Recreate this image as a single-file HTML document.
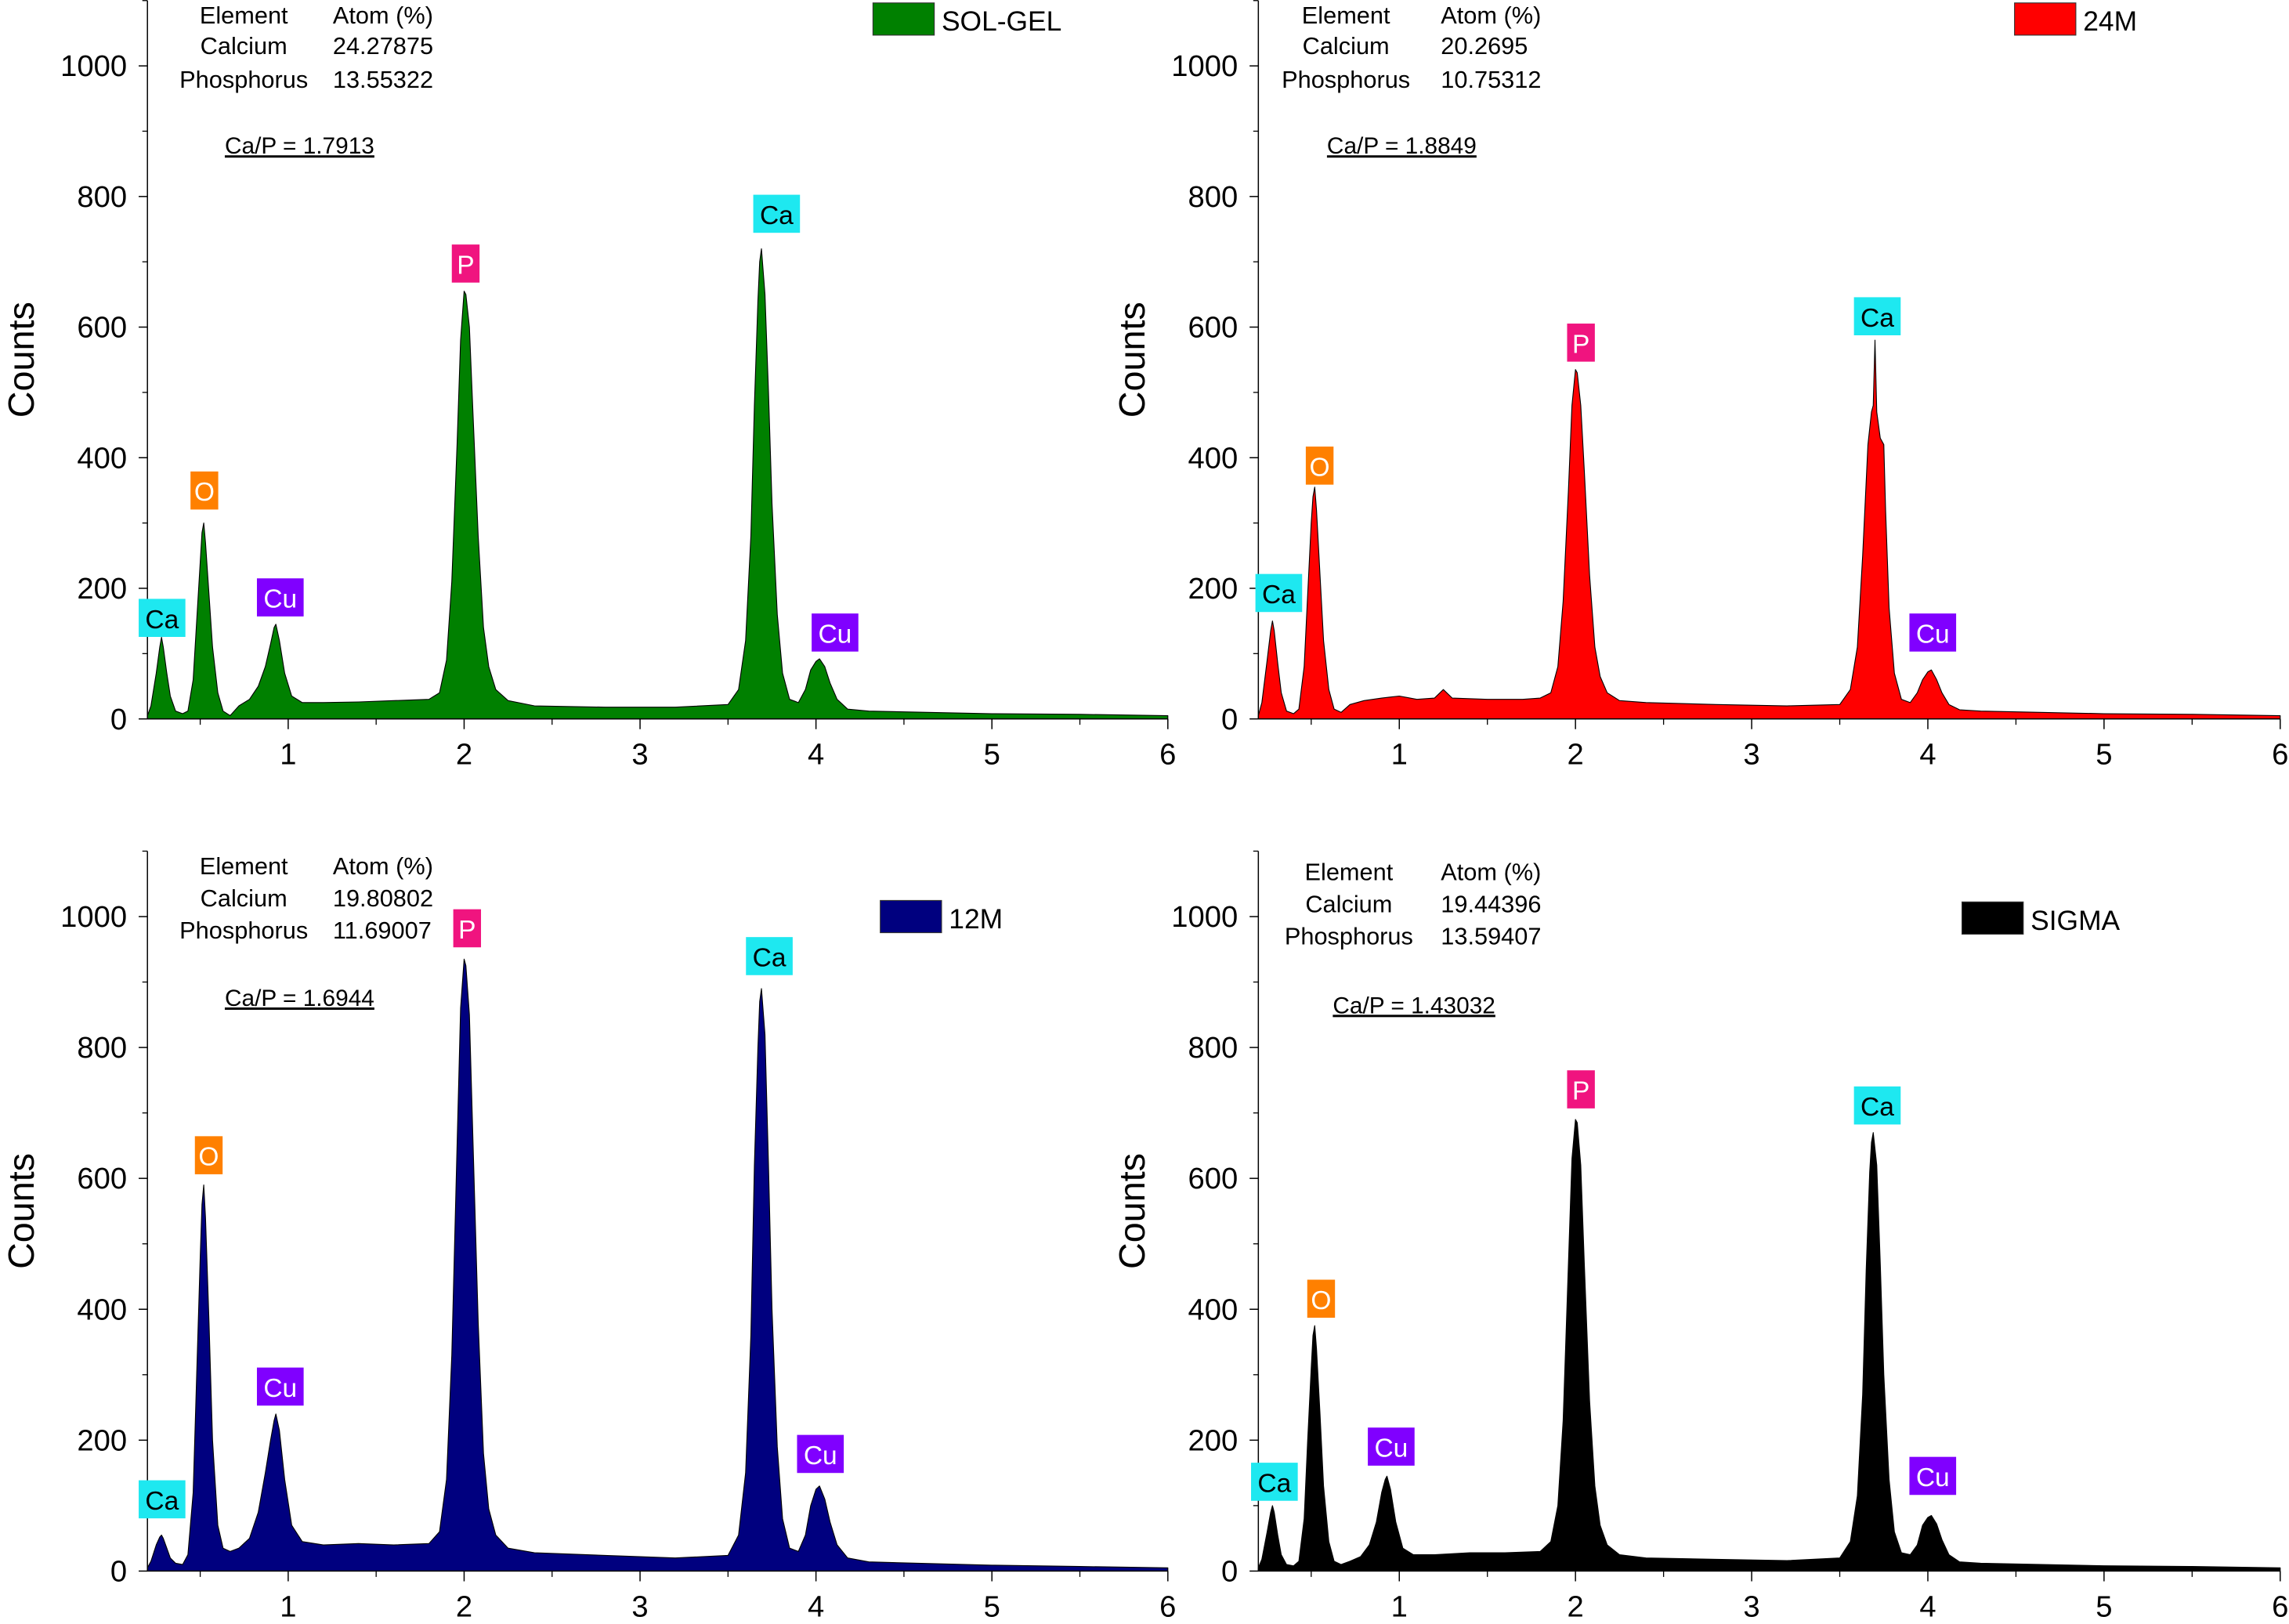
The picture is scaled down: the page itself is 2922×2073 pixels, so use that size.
<!DOCTYPE html>
<html><head><meta charset="utf-8"><title>EDS spectra</title>
<style>
html,body{margin:0;padding:0;background:#fff;}
svg{display:block;font-family:"Liberation Sans",Arial,sans-serif;}
</style></head>
<body>
<svg id="chart" xmlns="http://www.w3.org/2000/svg" width="2922" height="2073" viewBox="0 0 2922 2073">
<g id="root" transform="scale(1.8635,1.869)"></g>
</svg>
<script>
// ---- data: [energy keV, counts] ----
const solgelPts = [[0.2,5],[0.22,20],[0.25,70],[0.27,110],[0.28,125],[0.29,110],[0.31,70],[0.33,35],[0.36,12],[0.40,8],
 [0.43,12],[0.46,60],[0.48,150],[0.50,240],[0.51,285],[0.52,300],[0.53,270],[0.55,190],[0.57,110],[0.60,40],[0.63,12],[0.67,5],
 [0.72,20],[0.78,30],[0.83,50],[0.87,80],[0.90,115],[0.92,140],[0.93,145],[0.95,120],[0.98,70],[1.02,35],[1.08,25],
 [1.2,25],[1.4,26],[1.6,28],[1.8,30],[1.86,40],[1.90,90],[1.93,210],[1.96,420],[1.98,580],[2.00,655],[2.01,650],[2.03,600],
 [2.05,470],[2.08,280],[2.11,140],[2.14,80],[2.18,45],[2.25,28],[2.4,20],[2.8,18],[3.2,18],[3.5,22],[3.56,45],[3.60,120],
 [3.63,280],[3.65,480],[3.67,640],[3.68,700],[3.69,720],[3.71,650],[3.73,500],[3.75,330],[3.78,160],[3.81,70],[3.85,30],
 [3.90,25],[3.94,45],[3.97,75],[4.00,88],[4.02,92],[4.05,80],[4.08,55],[4.12,30],[4.18,15],[4.3,12],[5.0,8],[5.5,7],[6.0,5]];
const m24Pts = [[0.2,5],[0.22,25],[0.25,90],[0.27,135],[0.28,150],[0.29,135],[0.31,85],[0.33,40],[0.36,12],[0.40,8],
 [0.43,15],[0.46,80],[0.48,190],[0.50,300],[0.51,340],[0.52,355],[0.53,320],[0.55,220],[0.57,120],[0.60,45],[0.63,15],[0.67,10],
 [0.72,22],[0.8,28],[0.9,32],[1.0,35],[1.1,30],[1.2,32],[1.25,45],[1.3,32],[1.5,30],[1.7,30],[1.8,32],[1.86,40],[1.90,80],
 [1.93,180],[1.96,350],[1.98,480],[2.00,535],[2.01,530],[2.03,480],[2.05,380],[2.08,220],[2.11,110],[2.14,65],[2.18,40],
 [2.25,28],[2.4,25],[2.8,22],[3.2,20],[3.5,22],[3.56,45],[3.60,110],[3.63,250],[3.66,420],[3.68,470],[3.69,480],[3.70,580],
 [3.71,470],[3.73,430],[3.75,420],[3.76,320],[3.78,170],[3.81,70],[3.85,30],[3.90,25],[3.94,40],[3.97,60],[4.00,72],[4.02,75],
 [4.05,60],[4.08,40],[4.12,22],[4.18,14],[4.3,12],[5.0,8],[5.5,7],[6.0,5]];
const m12Pts = [[0.2,5],[0.22,15],[0.25,40],[0.27,52],[0.28,55],[0.29,50],[0.31,35],[0.33,20],[0.36,12],[0.40,10],
 [0.43,25],[0.46,120],[0.48,300],[0.50,480],[0.51,560],[0.52,590],[0.53,540],[0.55,380],[0.57,200],[0.60,70],[0.63,35],[0.67,30],
 [0.72,35],[0.78,50],[0.83,90],[0.87,150],[0.90,200],[0.92,230],[0.93,240],[0.95,215],[0.98,140],[1.02,70],[1.08,45],
 [1.2,40],[1.4,42],[1.6,40],[1.8,42],[1.86,60],[1.90,140],[1.93,330],[1.96,650],[1.98,860],[2.00,935],[2.01,925],[2.03,850],
 [2.05,660],[2.08,380],[2.11,180],[2.14,95],[2.18,55],[2.25,35],[2.4,28],[2.8,24],[3.2,20],[3.5,24],[3.56,55],[3.60,150],
 [3.63,360],[3.65,620],[3.67,800],[3.68,870],[3.69,890],[3.71,820],[3.73,620],[3.75,400],[3.78,190],[3.81,80],[3.85,35],
 [3.90,30],[3.94,55],[3.97,100],[4.00,125],[4.02,130],[4.05,110],[4.08,75],[4.12,40],[4.18,20],[4.3,14],[5.0,9],[5.5,7],[6.0,5]];
const sigmaPts = [[0.2,5],[0.22,18],[0.25,60],[0.27,90],[0.28,100],[0.29,90],[0.31,55],[0.33,25],[0.36,10],[0.40,8],
 [0.43,15],[0.46,80],[0.48,200],[0.50,310],[0.51,360],[0.52,375],[0.53,340],[0.55,240],[0.57,130],[0.60,45],[0.63,15],[0.67,10],
 [0.72,15],[0.78,22],[0.83,40],[0.87,75],[0.90,120],[0.92,140],[0.93,145],[0.95,125],[0.98,75],[1.02,35],[1.08,25],
 [1.2,25],[1.4,28],[1.6,28],[1.8,30],[1.86,45],[1.90,100],[1.93,230],[1.96,470],[1.98,630],[2.00,690],[2.01,685],[2.03,620],
 [2.05,470],[2.08,260],[2.11,130],[2.14,70],[2.18,40],[2.25,25],[2.4,20],[2.8,18],[3.2,16],[3.5,20],[3.56,45],[3.60,115],
 [3.63,270],[3.65,460],[3.67,610],[3.68,655],[3.69,670],[3.71,620],[3.73,470],[3.75,300],[3.78,140],[3.81,60],[3.85,28],
 [3.90,25],[3.94,40],[3.97,70],[4.00,82],[4.02,85],[4.05,72],[4.08,48],[4.12,25],[4.18,14],[4.3,12],[5.0,8],[5.5,7],[6.0,5]];
const xTicks = [1,2,3,4,5,6];
const yTicks = [0,200,400,600,800,1000];
const xMinor = [0.5,1.5,2.5,3.5,4.5,5.5];
const yMinor = [100,300,500,700,900,1100];

const NS = "http://www.w3.org/2000/svg";
const root = document.getElementById('root');
function mk(tag, attrs, parent){const e=document.createElementNS(NS,tag);for(const k in attrs)e.setAttribute(k,attrs[k]);(parent||root).appendChild(e);return e;}

const panels = [
 {name:'sol-gel',L:101,R:800,Y0:491,k:0.446,P:solgelPts,fill:'#008000',legend:'SOL-GEL',lx:598,ly:2,
  rows:[['Element','Atom (%)',10],['Calcium','24.27875',31],['Phosphorus','13.55322',54]],ec:167,ax:228,ratio:'Ca/P = 1.7913',rx:154,ry:99,
  labels:[['Ca',111,422],['O',140,335],['Cu',192,408],['P',319,180],['Ca',532,146],['Cu',572,432]]},
 {name:'24m',L:862,R:1562,Y0:491,k:0.446,P:m24Pts,fill:'#ff0000',legend:'24M',lx:1380,ly:2,
  rows:[['Element','Atom (%)',10],['Calcium','20.2695',31],['Phosphorus','10.75312',54]],ec:922,ax:987,ratio:'Ca/P = 1.8849',rx:909,ry:99,
  labels:[['Ca',876,405],['O',904,318],['P',1083,234],['Ca',1286,216],['Cu',1324,432]]},
 {name:'12m',L:101,R:800,Y0:1073,k:0.447,P:m12Pts,fill:'#00007f',legend:'12M',lx:603,ly:615,
  rows:[['Element','Atom (%)',591],['Calcium','19.80802',613],['Phosphorus','11.69007',635]],ec:167,ax:228,ratio:'Ca/P = 1.6944',rx:154,ry:681,
  labels:[['Ca',111,1024],['O',143,789],['Cu',192,947],['P',320,634],['Ca',527,653],['Cu',562,993]]},
 {name:'sigma',L:862,R:1562,Y0:1073,k:0.447,P:sigmaPts,fill:'#000000',legend:'SIGMA',lx:1344,ly:616,
  rows:[['Element','Atom (%)',595],['Calcium','19.44396',617],['Phosphorus','13.59407',639]],ec:924,ax:987,ratio:'Ca/P = 1.43032',rx:913,ry:686,
  labels:[['Ca',873,1012],['O',905,887],['Cu',953,988],['P',1083,744],['Ca',1286,755],['Cu',1324,1008]]}
];
const labelColors = {Ca:['#1ee8f0','#000'],O:['#ff8000','#fff'],Cu:['#8000ff','#fff'],P:['#f0147f','#fff']};

panels.forEach(p=>{
  const g = mk('g',{});
  
  
  const xs = e => p.L + (e-0.2)/(6-0.2)*(p.R-p.L);
  const ys = c => p.Y0 - c*p.k;
  let d = 'M'+xs(p.P[0][0])+','+ys(0);
  p.P.forEach(pt=>{ d += ' L'+xs(pt[0]).toFixed(2)+','+ys(pt[1]).toFixed(2); });
  d += ' L'+xs(p.P[p.P.length-1][0])+','+ys(0)+' Z';
  const sp = mk('path',{d:d,fill:p.fill,stroke:'#000','stroke-width':0.6,'stroke-linejoin':'round'},g);
  
  
  const top = ys(1100);
  const ya = mk('line',{x1:p.L,y1:top,x2:p.L,y2:p.Y0,stroke:'#000','stroke-width':0.8},g);
  
  
  const xa = mk('line',{x1:p.L,y1:p.Y0,x2:p.R,y2:p.Y0,stroke:'#000','stroke-width':0.8},g);
  
  
  yTicks.forEach(v=>{
    mk('line',{x1:p.L-6,x2:p.L,y1:ys(v),y2:ys(v),stroke:'#000','stroke-width':0.8},g);
    const t = mk('text',{x:p.L-14,y:ys(v)+7,'text-anchor':'end','font-size':20.5},g);
    t.textContent = v;
    
    
  });
  yMinor.forEach(v=>{ mk('line',{x1:p.L-3.5,x2:p.L,y1:ys(v),y2:ys(v),stroke:'#000','stroke-width':0.7},g); });
  xTicks.forEach(v=>{
    mk('line',{x1:xs(v),x2:xs(v),y1:p.Y0,y2:p.Y0+7,stroke:'#000','stroke-width':0.8},g);
    const t = mk('text',{x:xs(v),y:p.Y0+31,'text-anchor':'middle','font-size':20.5},g);
    t.textContent = v;
    
    
  });
  xMinor.forEach(v=>{ mk('line',{x1:xs(v),x2:xs(v),y1:p.Y0,y2:p.Y0+4,stroke:'#000','stroke-width':0.7},g); });
  const cy = (top+p.Y0)/2;
  const tx = p.L-87;
  const yt = mk('text',{x:tx,y:cy+9,'text-anchor':'middle','font-size':25,transform:'rotate(-90 '+tx+' '+cy+')'},g);
  yt.textContent = 'Counts';
  
  
  p.rows.forEach(r=>{
    const a = mk('text',{x:p.ec,y:r[2]+6,'text-anchor':'middle','font-size':16.5},g);
    a.textContent = r[0];
    
    
    const b = mk('text',{x:p.ax,y:r[2]+6,'font-size':16.5},g);
    b.textContent = r[1];
    
    
  });
  const rt = mk('text',{x:p.rx,y:p.ry+6,'font-size':16,'text-decoration':'underline'},g);
  rt.textContent = p.ratio;
  
  
  const sw = mk('rect',{x:p.lx,y:p.ly,width:42,height:22,fill:p.fill,stroke:'#333','stroke-width':0.6},g);
  
  
  const lt = mk('text',{x:p.lx+47,y:p.ly+19,'font-size':19},g);
  lt.textContent = p.legend;
  
  
  p.labels.forEach(l=>{
    const c = labelColors[l[0]];
    const w = l[0].length>1 ? 32 : 19;
    const r = mk('rect',{x:l[1]-w/2,y:l[2]-13,width:w,height:26,fill:c[0]},g);
    
    
    const t = mk('text',{x:l[1],y:l[2]+7,'text-anchor':'middle','font-size':18,fill:c[1]},g);
    t.textContent = l[0];
    
    
  });
});
</script>
</body></html>
